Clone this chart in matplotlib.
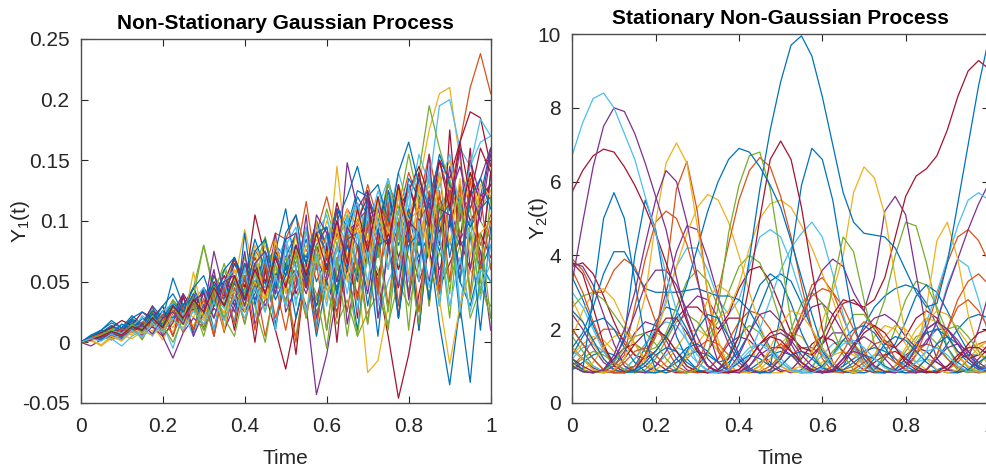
import matplotlib
matplotlib.use('Agg')
import matplotlib.pyplot as plt

plt.rcParams['font.family'] = ['Liberation Sans', 'DejaVu Sans']
plt.rcParams['mathtext.default'] = 'regular'

# sample times shared by every path
time = [0, 0.025, 0.05, 0.075, 0.1, 0.125, 0.15, 0.175, 0.2, 0.225,
        0.25, 0.275, 0.3, 0.325, 0.35, 0.375, 0.4, 0.425, 0.45, 0.475,
        0.5, 0.525, 0.55, 0.575, 0.6, 0.625, 0.65, 0.675, 0.7, 0.725,
        0.75, 0.775, 0.8, 0.825, 0.85, 0.875, 0.9, 0.925, 0.95, 0.975, 1.0]

# Y1(t) sample paths, in units of 0.01
y1_p01 = [0, 0.3, 0.8, 1.2, 0.9, 1.8, 1.5, 2.6, 2.0, 3.5, 2.4, 4.0, 3.0, 5.5, 4.2, 6.8, 5.0, 7.6, 6.2, 9.0, 8.5, 10.5, 7.5, 9.0, 12.0, 8.5, 11.0, 9.5, 13.0, 10.0, 12.5, 10.5, 14.0, 11.5, 15.5, 11.0, 12.0, 16.5, 21.0, 23.8, 20.5]
y1_p02 = [0, 0.2, 0.5, 0.3, 1.0, 0.6, 1.6, 0.9, 2.2, 1.2, 3.0, 2.0, 4.2, 3.0, 5.0, 6.5, 5.0, 8.0, 6.0, 7.5, 5.5, 9.0, 7.0, 10.0, 8.0, 10.5, 9.0, 11.5, 8.5, 12.0, 9.5, 13.0, 10.5, 13.0, 17.5, 20.5, 21.0, 15.0, 11.0, 13.5, 12.0]
y1_p03 = [0, 0.4, 0.9, 0.5, 1.5, 0.8, 2.2, 1.5, 3.0, 2.0, 3.6, 2.5, 4.5, 3.2, 5.5, 4.0, 6.2, 5.0, 7.0, 5.5, 6.5, 8.0, 6.0, 9.0, 7.5, 10.0, 8.0, 11.5, 9.0, 12.5, 10.0, 14.0, 11.0, 15.5, 13.0, 19.5, 20.0, 16.0, 14.5, 16.5, 17.0]
y1_p04 = [0, 0.5, 0.3, 1.2, 0.8, 2.0, 1.4, 2.8, 1.8, 3.5, 2.5, 4.5, 8.0, 4.5, 6.0, 3.5, 7.0, 4.8, 8.5, 5.5, 8.0, 6.5, 9.5, 7.0, 11.0, 8.0, 10.5, 7.5, 12.0, 9.0, 13.5, 10.0, 12.5, 14.0, 19.5, 16.0, 13.0, 12.0, 14.0, 10.0, 8.5]
y1_p05 = [0, 0.2, 0.7, 0.4, 1.2, 0.9, 2.0, 1.2, 2.6, 1.8, 3.0, 4.5, 2.5, 5.0, 3.8, 6.5, 4.5, 7.0, 5.0, 7.5, 6.0, 9.0, 6.5, 10.0, 7.0, 11.5, 8.5, 10.0, 12.0, 9.0, 13.0, 11.0, 12.5, 14.5, 12.0, 15.0, 13.5, 16.5, 19.0, 18.5, 14.5]
y1_p06 = [0, 0.3, 0.6, 1.0, 0.7, 1.5, 1.2, 2.3, 1.6, 3.0, 2.2, 3.8, 2.8, 4.0, 5.5, 3.5, 6.5, 4.5, 7.0, 5.0, 6.0, 7.5, 4.5, 8.0, 5.5, 9.0, 7.0, 10.0, 8.0, 5.0, 0.5, -4.6, -1.0, 4.0, 8.0, 12.0, 9.5, 13.0, 10.0, 11.5, 13.0]
y1_p07 = [0, -0.3, 0.2, 0.6, 0.3, 1.0, 0.7, 1.6, 1.0, 1.8, 1.5, 3.0, 2.0, 3.5, 4.5, 2.5, 5.5, 3.5, 6.0, 4.0, 7.0, 5.5, 3.0, -4.3, -1.0, 4.0, 9.0, 10.0, 11.0, 8.0, 12.5, 9.0, 13.0, 10.5, 12.0, 9.0, 11.0, 8.5, 10.0, 7.5, 1.0]
y1_p08 = [0, 0.2, -0.3, 0.4, 0.2, 0.9, 0.5, 1.4, 0.2, 1.8, 1.2, 2.8, 1.5, 3.5, 2.5, 5.0, 9.3, 5.5, 8.0, 6.0, 7.0, 5.0, 8.0, 6.5, 10.0, 8.5, 11.0, 6.0, -2.5, -1.5, 3.0, 7.0, 10.0, 12.5, 9.0, 13.0, 15.0, 11.0, 13.5, 12.0, 13.0]
y1_p09 = [0, 0.6, 1.0, 1.8, 1.2, 2.2, 1.5, 3.0, 2.0, 5.3, 3.0, 4.5, 2.5, 5.5, 3.5, 7.0, 5.0, 8.5, 6.0, 8.0, 7.0, 9.0, 6.5, 10.0, 8.0, 11.0, 9.5, 12.5, 12.0, 10.0, 12.5, 9.0, 13.5, 12.0, 8.0, 1.5, -3.5, 3.0, -3.3, 6.0, 14.0]
y1_p10 = [0, 0.4, 0.8, 1.4, 1.0, 1.8, 1.3, 2.5, 1.8, 3.0, 2.4, 3.8, 3.0, 4.2, 5.0, 3.5, 6.5, 4.5, 7.5, 5.5, 6.5, 8.0, 7.0, 9.5, 8.0, 11.0, 9.0, 12.0, 10.5, 11.0, 9.0, 14.0, 16.5, 13.0, 10.0, 14.0, 7.0, 11.5, 9.5, 12.0, 16.0]
y1_p11 = [0, 0.3, 0.6, 0.9, 0.6, 1.3, 1.0, 2.0, 1.4, 2.6, 2.0, 3.3, 2.5, 4.0, 3.2, 4.8, 3.8, 5.5, 4.5, 8.0, 5.5, 7.0, 11.6, 6.0, 9.0, 4.0, 7.0, 3.5, 8.5, 5.0, 10.0, 6.0, 11.0, 8.0, 12.5, 9.0, 13.0, 10.5, 12.0, 8.0, 10.5]
y1_p12 = [0, 0.5, 0.3, 1.0, 0.6, 1.7, 1.1, 2.5, 1.5, 3.0, 2.0, 3.5, 2.2, 4.5, 3.0, 5.5, 3.5, 6.5, 4.0, 7.5, 11.0, 6.0, 8.5, 5.0, 7.0, 4.0, 8.0, 5.5, 9.5, 7.0, 11.0, 8.0, 10.5, 7.0, 9.0, 6.0, 8.5, 5.0, 3.0, 6.5, 5.0]
y1_p13 = [0, 0.3, 0.6, 0.4, 1.0, 1.5, 1.0, 2.2, 1.4, 3.0, 2.0, 4.0, 1.0, 3.0, 5.0, 3.0, 4.5, 6.5, 4.0, 1.0, -2.2, 2.0, 5.5, 3.5, 7.0, 5.0, 9.0, 6.5, 11.0, 8.0, 12.0, 9.5, 13.0, 10.0, 11.5, 9.0, 12.5, 10.0, 14.0, 11.5, 13.0]
y1_p14 = [0, 0.2, 0.5, 0.8, 0.5, 1.2, 0.9, 1.8, 1.2, 2.4, 4.0, 2.6, 4.5, 3.0, 5.0, 7.0, 4.5, 10.5, 7.0, 5.0, 8.0, 4.0, 6.0, 3.0, 5.0, 2.5, 6.0, 4.0, 7.5, 5.5, 9.0, 6.0, 8.5, 5.0, 7.5, 4.5, 6.5, 8.5, 6.0, 9.0, 7.0]
y1_p15 = [0, 0.4, 0.7, 1.2, 0.8, 1.6, 1.1, 2.5, 1.8, 3.4, 2.2, 3.8, 8.0, 4.0, 6.5, 3.5, 6.0, 4.2, 7.0, 4.5, 6.5, 3.5, 5.5, 2.5, 4.5, 1.5, 3.5, 0.5, 2.5, 4.0, 1.5, 5.0, 3.0, 6.5, 4.0, 7.5, 5.0, 8.0, 2.0, 4.5, 3.0]
y1_p16 = [0, 0.2, 0.5, 0.2, 0.6, 1.0, 0.6, 1.3, 0.5, -1.3, 0.8, 2.0, 1.2, 2.8, 2.0, 3.5, 2.5, 4.5, 3.0, 5.0, 3.5, 6.0, 4.0, 7.0, 5.0, 8.0, 6.0, 9.5, 7.0, 11.0, 8.0, 12.0, 9.5, 13.0, 10.5, 15.0, 12.0, 14.5, 11.0, 13.5, 16.0]
y1_p17 = [0, 0.3, 0.2, 0.8, 0.5, 1.2, 0.4, 1.5, 0.9, 2.2, 1.5, 3.0, 2.0, 3.8, 2.8, 4.5, 3.5, 5.5, 4.5, 6.5, 8.5, 6.0, 9.0, 7.0, 8.0, 6.0, 9.5, 6.5, 10.0, 2.0, 5.0, 7.0, 4.0, 11.0, 13.5, 10.0, 12.0, 3.0, 6.0, 4.5, 6.5]
y1_p18 = [0, 0.5, 0.8, 1.3, 1.0, 1.9, 1.4, 2.6, 2.0, 3.2, 2.5, 4.0, 3.0, 4.8, 3.5, 5.5, 4.0, 6.5, 4.8, 7.2, 5.5, 8.0, 6.5, 9.0, 7.5, 10.0, 12.0, 14.5, 11.0, 9.0, 12.0, 8.5, 11.0, 8.0, 10.5, 7.5, 10.0, 8.0, 9.0, 6.0, 8.0]
y1_p19 = [0, 0.2, 0.4, 0.7, 0.5, 1.0, 0.7, 1.5, 1.0, 2.0, 1.5, 2.6, 1.8, 3.2, 2.4, 3.8, 3.0, 4.5, 3.5, 5.5, 4.5, 6.0, 5.0, 7.0, 5.5, 14.5, 7.0, 9.5, 6.5, 10.5, 8.0, 12.0, 9.0, 10.5, 13.0, 9.5, 12.0, 10.0, 13.5, 11.0, 12.5]
y1_p20 = [0, 0.3, 0.6, 0.4, 0.9, 1.4, 1.0, 2.0, 1.5, 2.5, 2.0, 3.2, 2.5, 7.5, 4.0, 6.0, 3.0, 5.0, 4.0, 7.0, 5.0, 6.0, 4.5, 8.0, 9.5, 6.0, 14.8, 11.0, 12.5, 8.5, 11.0, 7.0, 9.5, 6.5, 12.0, 8.0, 14.5, 10.0, 15.0, 12.0, 13.0]
y1_p21 = [0, 0.3, 0.7, 1.1, 0.7, 1.5, 1.2, 2.2, 1.6, 2.8, 2.2, 3.3, 2.6, 4.0, 3.0, 5.5, 4.0, 6.0, 8.7, 5.0, 7.0, 4.5, 6.0, 3.5, 5.5, 7.5, 9.0, 6.0, 10.5, 7.0, 13.0, 11.0, 15.5, 11.5, 14.0, 10.0, 13.5, 9.0, 11.0, 5.0, 2.0]
y1_p22 = [0, 0.3, 0.2, 0.8, 0.4, 1.2, 0.3, 1.8, 0.6, 2.6, 0.8, 3.2, 1.2, 4.0, 0.8, 4.5, 1.5, 5.0, 0.5, 4.8, 1.0, 5.5, 2.0, 6.5, 1.0, 7.0, 2.5, 8.0, 1.5, 9.0, 3.0, 10.0, 4.0, 11.5, 3.0, 12.5, 5.0, 13.0, 4.0, 12.0, 6.0]
y1_p23 = [0, 0.4, 0.8, 1.2, 1.8, 1.4, 2.5, 2.0, 3.0, 0.5, 3.8, 1.0, 4.2, 0.5, 5.0, 1.0, 5.5, 0.0, 6.0, 1.5, 5.0, -1.0, 6.5, 1.5, 8.0, 0.0, 9.0, 2.0, 12.5, 4.0, 11.0, 2.0, 10.0, 1.0, 9.0, 4.0, 17.5, 8.0, 16.0, 6.0, 14.0]
y1_p24 = [0, 0.3, 1.0, 0.7, 1.5, 1.1, 2.0, 1.5, 2.6, 2.0, 3.2, 0.8, 4.5, 1.0, 5.0, 1.5, 9.0, 3.0, 7.0, 1.0, 6.5, 2.0, 6.0, 0.5, 5.0, 3.0, 6.5, 1.0, 7.5, 0.5, 8.5, 2.0, 9.0, 1.0, 9.5, 3.0, 10.5, 2.0, 9.0, 1.0, 9.5]
y1_p25 = [0, 0.2, 0.4, 0.3, -0.3, 0.5, 1.0, 0.6, 1.5, -0.5, 2.5, 0.5, 3.5, 1.0, 5.0, 1.5, 6.0, 2.0, 7.5, 1.0, 8.0, 3.0, 9.5, 1.5, 9.0, 3.0, 10.5, 2.5, 11.0, 3.0, 12.0, 4.5, 13.0, 5.0, 14.5, 3.0, 12.0, 2.5, 10.0, 3.5, 8.0]
y1_p26 = [0, 0.1, -0.2, 0.3, 0.6, 0.3, 0.9, 0.6, 1.3, 0.9, 2.0, 1.4, 2.8, 2.0, 3.5, 4.2, 3.0, 5.0, 3.5, 6.0, 5.0, 7.5, 6.0, 8.5, 7.0, 9.5, 8.0, 10.0, 8.5, 11.5, 9.0, 12.5, 10.0, 11.0, 7.0, 3.5, -1.8, 3.0, 6.0, 9.0, 10.0]
y1_p27 = [0, 0.3, 0.5, 0.8, 1.1, 0.8, 1.5, 3.0, 0.5, 1.6, 4.0, 0.5, 2.5, 6.0, 1.0, 3.0, 7.5, 1.5, 3.5, 9.0, 2.5, 4.5, 10.5, 2.0, 5.5, 11.0, 1.5, 6.0, 12.0, 2.0, 7.5, 13.0, 3.5, 9.0, 15.5, 5.0, 10.0, 16.0, 6.0, 11.0, 16.0]
y1_p28 = [0, 0.2, 0.5, 0.8, 0.6, 1.3, 0.2, 1.8, 1.4, 0.0, 2.0, 3.0, 0.5, 3.6, 2.0, 0.5, 4.5, 3.0, 0.0, 5.0, 3.5, 0.5, 6.0, 4.0, -0.5, 6.0, 5.5, 0.5, 7.5, 6.0, 1.0, 9.0, 7.0, 1.5, 10.0, 9.0, 2.0, 11.0, 9.0, 4.0, 12.0]
y1_p29 = [0, 0.3, 0.6, 1.0, 0.7, 1.4, 2.0, 0.5, 2.6, 3.2, 1.5, 3.5, 4.5, 2.0, 5.0, 6.0, 3.0, 6.5, 7.5, 4.0, 8.0, 9.5, 5.0, 9.0, 10.5, 6.0, 10.0, 11.5, 7.0, 11.0, 13.5, 8.5, 12.0, 14.0, 9.5, 13.0, 15.5, 11.0, 14.5, 18.4, 17.0]
y1_p30 = [0, 0.5, 0.2, 0.9, 0.4, 1.6, 0.9, 2.4, 1.3, 3.1, 1.8, 3.6, 2.3, 4.3, 3.0, 5.0, 2.5, 4.0, 6.5, 3.5, 5.5, 8.0, 5.0, 3.0, 6.5, 4.5, 8.0, 5.0, 12.0, 13.0, 10.0, 12.5, 9.0, 13.5, 11.0, 15.5, 13.0, 11.5, 9.5, 11.0, 12.0]
y1_p31 = [0, 0.4, 0.7, 0.5, 1.1, 0.8, 1.7, 1.3, 2.3, 0.5, 2.9, 1.0, 3.6, 0.5, 4.5, 1.5, 5.5, 1.0, 6.5, 2.0, 5.0, 0.0, 6.0, 1.0, 7.5, 2.0, 9.0, 3.5, 10.0, 4.0, 11.5, 3.0, 10.0, 2.5, 11.0, 4.0, 12.5, 5.0, 13.5, 6.0, 10.0]
y1_p32 = [0, 0.2, -0.2, 0.5, 0.1, 0.9, 0.4, 1.6, 0.8, 2.5, 1.5, 5.8, 2.0, 4.5, 1.0, 6.0, 2.5, 7.5, 3.5, 8.5, 4.0, 9.0, 2.0, 10.0, 3.5, 9.5, 5.0, 11.0, 4.5, 12.0, 6.0, 12.5, 5.5, 13.0, 7.0, 14.0, 8.0, 13.5, 7.0, 13.0, 12.0]
y1_p33 = [0, 0.3, 0.6, 1.0, 0.5, 1.5, 0.8, 2.2, 1.0, 3.0, 1.5, 3.5, 1.0, 4.5, 2.0, 5.5, 1.5, 6.0, 2.5, 6.5, 3.0, 7.5, 2.0, 8.0, 1.0, 7.0, 0.5, 6.5, 1.5, 8.0, 2.5, 9.5, 1.0, 10.0, 3.0, 11.5, 4.0, 12.0, 3.5, 9.0, 2.0]
y1_p34 = [0, 0.2, 0.4, 0.7, 0.5, 1.0, 1.4, 0.7, 2.0, 2.5, 1.5, 3.5, 4.0, 2.0, 5.0, 5.5, 3.0, 6.5, 7.5, 4.0, 8.5, 9.0, 4.5, 10.5, 9.0, 5.0, 9.5, 8.0, 4.0, 9.0, 8.0, 4.5, 10.0, 9.0, 5.0, 11.0, 10.5, 6.0, 12.5, 10.0, 15.5]
y1_p35 = [0, 0.5, 1.0, 1.6, 1.2, 2.0, 2.5, 1.8, 3.0, 4.0, 2.5, 4.5, 5.5, 3.0, 6.0, 7.0, 3.5, 7.5, 8.5, 4.5, 9.0, 10.5, 5.0, 9.0, 9.5, 4.0, 8.5, 9.0, 3.0, 8.0, 8.5, 2.0, 8.0, 9.0, 3.5, 10.0, 11.5, 5.0, 12.0, 13.5, 11.0]
y1_p36 = [0, 0.2, 0.5, 0.9, 0.6, 1.3, 1.0, 2.0, 1.2, 3.0, 2.0, 3.5, 2.5, 4.5, 3.0, 5.5, 3.5, 6.0, 4.0, 7.0, 4.5, 8.0, 5.5, 9.0, 6.0, 10.0, 6.5, 11.0, 7.5, 12.0, 8.0, 13.0, 9.0, 14.0, 9.5, 15.0, 11.0, 16.5, 12.0, 16.0, 14.0]
y1_p37 = [0, 0.3, 0.1, 0.7, 0.2, 1.0, 0.4, 1.6, 0.8, 2.0, 1.0, 2.6, 1.5, 3.3, 1.8, 3.8, 2.0, 4.5, 2.5, 5.5, 3.0, 6.0, 2.5, 7.0, 3.0, 8.0, 4.0, 9.0, 5.0, 10.0, 6.0, 11.0, 5.0, 10.0, 4.5, 9.0, 3.0, 7.0, 2.5, 6.0, 5.0]

# Y2(t) sample paths
y2_p01 = [6.72, 7.6, 8.25, 8.4, 8.0, 7.3, 6.6, 5.6, 4.6, 3.5, 2.5, 1.7, 1.1, 0.85, 0.82, 0.9, 1.2, 1.5, 1.6, 1.4, 1.1, 0.9, 0.82, 0.82, 0.95, 1.3, 1.6, 1.7, 1.5, 1.2, 0.95, 0.85, 0.9, 1.1, 1.4, 1.5, 1.3, 1.0, 0.85, 0.85, 0.95]
y2_p02 = [3.3, 4.9, 6.4, 7.5, 8.0, 7.9, 7.3, 6.5, 5.6, 4.7, 3.4, 2.3, 1.5, 1.0, 0.82, 0.9, 1.3, 1.9, 2.4, 2.5, 2.2, 1.6, 1.1, 0.85, 0.82, 0.9, 1.2, 1.4, 1.3, 1.0, 0.85, 0.82, 1.0, 1.5, 2.0, 2.2, 2.0, 1.6, 1.2, 0.95, 0.85]
y2_p03 = [5.73, 6.3, 6.7, 6.88, 6.8, 6.4, 5.9, 5.3, 4.6, 3.8, 3.0, 2.2, 1.5, 1.0, 0.82, 0.82, 0.9, 1.2, 1.6, 1.8, 1.7, 1.4, 1.1, 0.9, 0.82, 0.85, 1.1, 1.5, 1.9, 2.1, 1.9, 1.5, 1.1, 0.9, 0.82, 0.85, 1.0, 1.3, 1.5, 1.5, 1.3]
y2_p04 = [1.2, 0.9, 2.9, 5.0, 5.7, 5.0, 3.3, 1.7, 0.9, 0.82, 0.9, 1.4, 2.0, 2.4, 2.3, 1.8, 1.2, 0.9, 0.82, 0.82, 1.0, 1.3, 1.4, 1.2, 0.95, 0.85, 0.9, 1.1, 1.3, 1.2, 1.0, 0.85, 0.82, 0.9, 1.2, 1.6, 1.8, 1.6, 1.2, 0.95, 0.9]
y2_p05 = [1.0, 0.85, 0.82, 0.9, 1.3, 2.0, 3.0, 4.3, 5.5, 6.3, 6.0, 4.9, 3.4, 2.0, 1.1, 0.85, 0.82, 1.0, 1.4, 1.8, 1.9, 1.7, 1.3, 1.0, 0.85, 0.9, 1.2, 1.6, 1.8, 1.6, 1.2, 0.9, 0.82, 0.82, 0.9, 1.2, 1.5, 1.6, 1.4, 1.1, 0.9]
y2_p06 = [1.5, 1.2, 0.9, 0.82, 0.9, 1.2, 1.8, 2.9, 4.9, 6.5, 7.05, 6.5, 4.8, 3.0, 1.7, 1.0, 0.85, 0.82, 1.0, 1.5, 2.1, 2.5, 2.4, 2.0, 1.5, 1.1, 0.9, 0.82, 0.9, 1.3, 1.8, 2.1, 2.0, 1.6, 1.2, 0.9, 0.82, 0.9, 1.2, 1.5, 1.7]
y2_p07 = [2.0, 1.6, 1.2, 0.9, 0.82, 0.82, 1.0, 1.3, 1.8, 3.5, 5.8, 6.55, 5.2, 2.9, 1.4, 0.9, 0.82, 0.85, 1.0, 1.4, 1.6, 1.4, 1.1, 0.9, 0.85, 1.0, 1.4, 1.9, 2.2, 2.1, 1.7, 1.2, 0.9, 0.82, 0.9, 1.3, 2.0, 2.8, 3.3, 3.5, 3.2]
y2_p08 = [2.0, 1.6, 1.2, 0.9, 0.82, 0.82, 0.9, 1.1, 1.4, 1.8, 2.4, 3.2, 4.2, 5.2, 6.0, 6.6, 6.9, 6.8, 6.4, 5.9, 5.3, 4.4, 3.4, 2.4, 1.5, 1.0, 0.85, 0.82, 0.9, 1.2, 1.6, 1.8, 1.7, 1.4, 1.1, 0.9, 0.82, 0.82, 0.9, 1.1, 1.3]
y2_p09 = [1.0, 0.9, 0.82, 0.85, 1.1, 1.5, 1.8, 1.9, 1.6, 1.2, 0.9, 0.82, 0.9, 1.3, 2.6, 4.6, 5.9, 6.7, 6.8, 5.8, 4.0, 2.2, 1.1, 0.9, 1.6, 3.2, 4.5, 4.1, 2.8, 1.6, 1.0, 0.85, 0.82, 0.9, 1.2, 1.6, 2.0, 2.1, 1.8, 1.4, 1.1]
y2_p10 = [1.5, 1.2, 0.9, 0.82, 0.85, 1.1, 1.4, 1.5, 1.3, 1.0, 0.85, 0.82, 1.0, 1.8, 3.0, 4.3, 5.5, 6.3, 6.65, 6.4, 5.6, 4.5, 3.2, 2.0, 1.2, 0.85, 0.82, 0.9, 1.1, 1.3, 1.3, 1.1, 0.9, 0.82, 0.9, 1.3, 2.0, 2.6, 2.8, 2.5, 2.0]
y2_p11 = [1.2, 1.0, 0.85, 0.82, 0.9, 1.2, 1.6, 1.9, 2.0, 1.8, 1.4, 1.0, 0.85, 0.82, 0.9, 1.2, 1.8, 3.2, 5.0, 6.6, 7.1, 6.6, 5.3, 3.6, 2.0, 1.1, 0.85, 0.82, 0.9, 1.1, 1.3, 1.4, 1.2, 1.0, 0.85, 0.82, 0.9, 1.2, 1.6, 1.9, 2.0]
y2_p12 = [1.3, 1.8, 2.2, 2.3, 2.0, 1.5, 1.1, 0.85, 0.82, 0.9, 1.2, 1.5, 1.6, 1.4, 1.1, 1.2, 2.2, 3.9, 5.8, 7.4, 8.7, 9.7, 9.95, 9.4, 8.3, 7.0, 5.7, 4.9, 4.6, 4.55, 4.5, 4.2, 3.6, 3.0, 2.6, 2.7, 3.8, 5.4, 7.0, 8.6, 9.9]
y2_p13 = [2.5, 2.2, 1.7, 1.2, 0.9, 0.82, 0.85, 1.0, 1.3, 1.5, 1.4, 1.1, 0.9, 0.82, 0.82, 0.9, 1.1, 1.3, 1.2, 1.0, 2.4, 4.0, 5.9, 6.9, 6.6, 5.5, 3.8, 2.2, 1.2, 0.85, 0.82, 0.9, 1.2, 1.6, 1.9, 2.0, 1.8, 1.4, 1.1, 0.9, 0.85]
y2_p14 = [1.0, 0.9, 1.1, 1.5, 1.8, 1.9, 1.6, 1.2, 0.9, 0.82, 0.9, 1.3, 2.0, 2.8, 3.2, 3.0, 2.4, 1.6, 1.0, 0.82, 0.82, 0.9, 1.0, 1.4, 2.2, 3.0, 4.0, 5.7, 6.4, 6.1, 5.1, 3.4, 1.8, 1.3, 2.6, 4.4, 4.9, 3.9, 2.4, 1.4, 1.0]
y2_p15 = [3.8, 3.5, 2.6, 1.6, 1.0, 0.85, 0.9, 1.3, 1.9, 2.3, 2.3, 1.9, 1.4, 1.0, 0.85, 0.82, 0.9, 1.2, 1.6, 1.9, 2.0, 1.8, 1.5, 1.4, 1.8, 2.4, 2.8, 2.7, 2.6, 2.8, 3.4, 4.5, 5.6, 6.15, 6.35, 6.7, 7.4, 8.3, 9.0, 9.28, 9.05]
y2_p16 = [3.8, 3.7, 3.2, 2.4, 1.6, 1.0, 0.85, 0.82, 1.0, 1.4, 2.0, 2.6, 2.9, 2.8, 2.3, 1.6, 1.1, 0.85, 0.82, 0.9, 1.2, 1.6, 2.2, 3.0, 3.6, 3.9, 3.7, 3.0, 2.5, 3.4, 5.2, 5.6, 5.1, 3.5, 2.0, 1.2, 0.9, 0.85, 1.2, 2.0, 3.0]
y2_p17 = [1.4, 1.2, 1.0, 0.85, 0.82, 0.9, 1.2, 1.6, 2.0, 2.2, 2.1, 1.7, 1.3, 1.0, 0.85, 0.82, 0.9, 1.3, 2.0, 2.8, 3.6, 4.2, 4.6, 4.9, 4.5, 3.5, 2.4, 1.5, 1.0, 0.85, 0.82, 0.9, 1.1, 1.5, 2.2, 3.0, 3.9, 4.8, 5.5, 5.7, 5.5]
y2_p18 = [1.0, 0.85, 0.82, 0.9, 1.2, 1.7, 2.4, 3.2, 3.6, 3.6, 3.2, 2.5, 1.8, 1.2, 0.9, 0.82, 0.85, 1.0, 1.3, 1.5, 1.5, 1.3, 1.0, 0.85, 0.82, 0.9, 1.2, 1.6, 2.0, 2.3, 2.4, 2.2, 1.8, 1.5, 1.6, 2.2, 3.1, 3.9, 4.7, 5.4, 5.96]
y2_p19 = [3.6, 3.0, 2.2, 1.5, 1.0, 1.3, 2.6, 3.9, 4.9, 5.2, 5.0, 4.3, 3.3, 2.3, 1.5, 1.0, 0.85, 0.82, 0.85, 1.0, 1.3, 1.8, 2.4, 2.9, 3.1, 3.0, 2.6, 2.0, 1.4, 1.0, 0.85, 0.82, 0.9, 1.3, 2.0, 2.9, 3.8, 4.5, 4.7, 4.4, 3.8]
y2_p20 = [2.8, 2.2, 1.6, 1.2, 0.9, 0.82, 0.9, 1.2, 1.8, 2.7, 3.7, 4.6, 5.3, 5.65, 5.5, 4.9, 4.0, 3.0, 2.1, 1.4, 1.0, 0.85, 0.82, 0.9, 1.1, 1.3, 1.4, 1.3, 1.1, 0.9, 0.85, 1.0, 1.5, 2.0, 2.3, 2.2, 1.8, 1.3, 1.0, 0.85, 0.82]
y2_p21 = [1.8, 2.5, 3.0, 3.1, 2.8, 2.2, 1.6, 1.1, 0.85, 0.82, 0.9, 1.2, 1.6, 2.0, 2.3, 2.5, 3.2, 4.2, 5.0, 5.4, 5.5, 5.3, 4.8, 4.2, 3.5, 2.8, 2.0, 1.4, 1.0, 0.85, 0.82, 0.9, 1.2, 1.7, 2.2, 2.5, 2.4, 2.0, 1.6, 1.3, 1.2]
y2_p22 = [1.0, 0.85, 0.82, 0.9, 1.1, 1.8, 4.0, 5.5, 4.7, 3.0, 1.8, 1.2, 0.9, 0.82, 0.9, 1.1, 1.4, 1.9, 2.6, 3.3, 3.5, 3.3, 2.7, 2.0, 1.4, 1.0, 0.85, 0.82, 0.82, 0.9, 1.2, 1.6, 2.2, 2.9, 3.2, 3.0, 2.5, 1.9, 1.4, 1.0, 0.85]
y2_p23 = [1.5, 1.9, 2.6, 3.5, 4.1, 4.1, 3.6, 3.1, 3.0, 3.0, 3.0, 3.05, 3.1, 3.0, 2.9, 2.9, 2.8, 2.5, 2.0, 1.5, 1.1, 0.9, 0.82, 0.85, 1.0, 1.3, 1.7, 2.0, 2.1, 1.9, 1.5, 1.1, 0.9, 0.82, 0.9, 1.2, 1.6, 2.0, 2.3, 2.4, 2.3]
y2_p24 = [3.9, 3.6, 3.0, 3.0, 3.6, 3.9, 3.7, 3.0, 2.2, 1.5, 1.0, 0.85, 0.82, 0.9, 1.2, 1.7, 2.2, 2.5, 2.4, 2.0, 1.5, 1.6, 2.4, 3.2, 3.4, 3.0, 2.3, 1.6, 1.1, 0.85, 0.82, 0.9, 1.1, 1.4, 1.6, 1.5, 1.2, 0.95, 0.85, 0.82, 0.9]
y2_p25 = [2.6, 2.9, 3.0, 2.8, 2.4, 2.0, 1.6, 1.4, 1.5, 1.9, 2.6, 3.3, 3.6, 3.3, 2.6, 1.8, 1.2, 0.9, 0.82, 0.9, 1.3, 2.0, 2.7, 3.0, 2.7, 2.0, 1.3, 0.9, 0.82, 0.9, 1.3, 2.0, 2.8, 3.3, 3.2, 2.6, 1.9, 1.3, 0.95, 0.85, 0.9]
y2_p26 = [1.0, 1.2, 1.4, 1.3, 1.1, 0.9, 0.82, 0.9, 1.2, 1.7, 2.2, 2.4, 2.2, 1.8, 2.2, 3.0, 3.7, 4.0, 3.8, 3.1, 2.2, 1.4, 0.95, 0.82, 0.9, 1.3, 1.9, 2.4, 2.4, 2.0, 2.8, 4.0, 4.9, 4.8, 3.8, 2.5, 1.5, 1.0, 0.85, 1.0, 1.4]
y2_p27 = [3.7, 3.8, 3.5, 2.9, 2.2, 1.6, 1.3, 1.2, 1.4, 1.8, 2.3, 2.6, 2.6, 2.3, 2.0, 2.4, 3.1, 3.6, 3.7, 3.3, 2.6, 1.9, 1.4, 1.3, 1.6, 2.2, 2.7, 2.8, 2.5, 2.0, 1.6, 1.5, 1.8, 2.3, 2.5, 2.3, 1.8, 1.4, 1.2, 1.3, 1.6]
y2_p28 = [2.4, 2.0, 1.5, 1.1, 0.9, 0.82, 0.9, 1.3, 2.0, 3.0, 4.1, 4.8, 4.7, 3.9, 2.9, 2.0, 1.3, 0.95, 0.82, 0.9, 1.2, 1.7, 2.2, 2.6, 2.7, 2.4, 1.9, 1.4, 1.0, 0.85, 0.82, 0.9, 1.2, 1.6, 2.0, 2.2, 2.0, 1.6, 1.2, 0.95, 0.85]
y2_p29 = [3.0, 2.6, 2.0, 1.4, 1.0, 0.85, 0.82, 1.1, 1.8, 2.8, 3.7, 4.2, 4.2, 3.6, 2.8, 2.4, 2.8, 3.7, 4.5, 4.7, 4.5, 3.8, 2.9, 2.0, 1.3, 0.95, 0.82, 0.85, 1.0, 1.3, 1.5, 1.5, 1.3, 1.1, 1.4, 2.2, 3.2, 3.9, 3.7, 2.8, 1.8]
y2_p30 = [3.4, 2.8, 2.1, 1.5, 1.1, 0.9, 1.0, 1.5, 2.2, 2.6, 2.5, 2.0, 1.4, 1.0, 0.85, 1.0, 1.6, 2.5, 3.2, 3.5, 3.3, 2.7, 1.9, 1.3, 0.95, 0.85, 1.0, 1.5, 2.1, 2.6, 2.9, 3.1, 3.2, 3.1, 2.7, 2.1, 1.5, 1.1, 0.9, 0.82, 0.85]
y2_p31 = [1.3, 1.6, 1.8, 1.7, 1.4, 1.1, 0.9, 0.82, 0.9, 1.1, 1.5, 1.9, 2.0, 1.8, 1.4, 1.0, 0.85, 0.82, 0.9, 1.2, 1.6, 1.9, 1.8, 1.4, 1.0, 0.85, 0.82, 0.9, 1.3, 1.8, 2.1, 2.0, 1.6, 1.1, 0.9, 0.82, 0.9, 1.2, 1.5, 1.6, 1.4]
y2_p32 = [1.8, 1.4, 1.0, 0.85, 0.82, 0.9, 1.2, 1.6, 1.9, 1.8, 1.4, 1.0, 0.85, 0.82, 0.9, 1.3, 1.8, 2.1, 1.9, 1.4, 1.0, 0.85, 0.82, 0.82, 1.0, 1.4, 1.7, 1.6, 1.3, 1.0, 0.85, 1.0, 1.4, 1.8, 1.9, 1.6, 1.2, 0.9, 0.82, 0.9, 1.1]
y2_p33 = [1.1, 0.9, 0.82, 0.9, 1.2, 1.5, 1.6, 1.4, 1.1, 0.9, 0.82, 0.82, 1.0, 1.4, 1.9, 2.3, 2.3, 1.9, 1.4, 1.0, 0.85, 0.9, 1.2, 1.6, 1.8, 1.7, 1.4, 1.1, 0.9, 0.82, 0.82, 1.0, 1.3, 1.5, 1.4, 1.1, 0.9, 0.82, 0.9, 1.2, 1.5]
y2_p34 = [1.2, 1.5, 1.6, 1.4, 1.1, 0.9, 0.82, 0.85, 1.0, 1.3, 1.5, 1.4, 1.1, 0.9, 0.82, 0.85, 1.1, 1.4, 1.6, 1.5, 1.2, 0.95, 0.85, 1.0, 1.3, 1.6, 1.7, 1.5, 1.2, 0.95, 0.85, 0.82, 0.9, 1.1, 1.2, 1.1, 0.95, 0.85, 0.9, 1.1, 1.3]
y2_p35 = [0.9, 1.1, 1.3, 1.4, 1.3, 1.1, 0.9, 0.82, 0.82, 0.9, 1.1, 1.3, 1.4, 1.3, 1.1, 0.9, 0.82, 0.9, 1.1, 1.3, 1.4, 1.3, 1.1, 0.9, 0.82, 0.85, 1.0, 1.2, 1.4, 1.5, 1.4, 1.2, 1.0, 0.85, 0.82, 0.9, 1.0, 1.2, 1.3, 1.3, 1.2]
y2_p36 = [1.5, 1.2, 0.95, 0.85, 1.0, 1.4, 1.9, 2.2, 2.1, 1.7, 1.2, 0.9, 0.82, 0.9, 1.2, 1.6, 1.8, 1.7, 1.4, 1.1, 0.9, 0.82, 0.9, 1.2, 1.6, 1.9, 1.9, 1.6, 1.2, 0.95, 0.85, 0.85, 1.0, 1.3, 1.7, 2.0, 2.0, 1.7, 1.3, 1.0, 0.9]
y2_p37 = [1.0, 1.3, 1.7, 2.0, 2.0, 1.7, 1.3, 1.0, 0.85, 0.82, 0.9, 1.2, 1.5, 1.7, 1.6, 1.3, 1.0, 0.85, 0.82, 0.85, 1.0, 1.3, 1.5, 1.5, 1.3, 1.0, 0.9, 1.0, 1.3, 1.6, 1.7, 1.5, 1.2, 0.95, 0.85, 0.82, 0.9, 1.1, 1.4, 1.6, 1.7]

x_ticks = [0, 0.2, 0.4, 0.6, 0.8, 1]
x_ticklabels = ['0', '0.2', '0.4', '0.6', '0.8', '1']
y1_ticks = [-0.05, 0, 0.05, 0.1, 0.15, 0.2, 0.25]
y1_ticklabels = ['-0.05', '0', '0.05', '0.1', '0.15', '0.2', '0.25']
y2_ticks = [0, 2, 4, 6, 8, 10]
y2_ticklabels = ['0', '2', '4', '6', '8', '10']

y1_paths = [y1_p01, y1_p02, y1_p03, y1_p04, y1_p05, y1_p06, y1_p07, y1_p08, y1_p09, y1_p10,
            y1_p11, y1_p12, y1_p13, y1_p14, y1_p15, y1_p16, y1_p17, y1_p18, y1_p19, y1_p20,
            y1_p21, y1_p22, y1_p23, y1_p24, y1_p25, y1_p26, y1_p27, y1_p28, y1_p29, y1_p30,
            y1_p31, y1_p32, y1_p33, y1_p34, y1_p35, y1_p36, y1_p37]
y2_paths = [y2_p01, y2_p02, y2_p03, y2_p04, y2_p05, y2_p06, y2_p07, y2_p08, y2_p09, y2_p10,
            y2_p11, y2_p12, y2_p13, y2_p14, y2_p15, y2_p16, y2_p17, y2_p18, y2_p19, y2_p20,
            y2_p21, y2_p22, y2_p23, y2_p24, y2_p25, y2_p26, y2_p27, y2_p28, y2_p29, y2_p30,
            y2_p31, y2_p32, y2_p33, y2_p34, y2_p35, y2_p36, y2_p37]

# matlab default line colours, one letter per path
palette = {'B': '#0072BD', 'O': '#D95319', 'Y': '#EDB120', 'P': '#7E2F8E',
           'G': '#77AC30', 'C': '#4DBEEE', 'R': '#A2142F'}
y1_colours = 'OYCGRRPYBBOBRRGPCBYPGORBCYPGCBOYGPBRC'
y2_colours = 'CPRBPYOBGORBBYRPCPOYYBBOGGRPCBYGRCBPO'

W, H = 987, 467
fig = plt.figure(figsize=(W / 100, H / 100), dpi=100)
ax1 = fig.add_axes([80.7 / W, 64 / H, 410 / W, 364 / H])
ax2 = fig.add_axes([572.3 / W, 64 / H, 416.7 / W, 369 / H])

for y, c in zip(y1_paths, y1_colours):
    ax1.plot(time, [v / 100 for v in y], color=palette[c], lw=0.9)
for y, c in reversed(list(zip(y2_paths, y2_colours))):
    ax2.plot(time, y, color=palette[c], lw=0.9)

ax1.set_ylim(-0.05, 0.25)
ax1.set_yticks(y1_ticks)
ax1.set_yticklabels(y1_ticklabels)
ax2.set_ylim(0, 10)
ax2.set_yticks(y2_ticks)
ax2.set_yticklabels(y2_ticklabels)

titles = ['Non-Stationary Gaussian Process', 'Stationary Non-Gaussian Process']
ylabels = ['Y$_1$(t)', 'Y$_2$(t)']
ylabel_x = [-0.119, -0.054]
for ax, title, ylabel, yx in zip([ax1, ax2], titles, ylabels, ylabel_x):
    ax.set_xlim(0, 1)
    ax.set_xticks(x_ticks)
    ax.set_xticklabels(x_ticklabels)
    ax.tick_params(direction='in', length=5, width=0.8, top=True, right=True,
                   labelsize=15, colors='#262626', pad=8)
    ax.tick_params(axis='x', pad=10)
    for s in ax.spines.values():
        s.set_color('#4d4d4d')
        s.set_linewidth(1.0)
    ax.set_title(title, fontsize=15, fontweight='bold', pad=7, color='black')
    ax.set_xlabel('Time', fontsize=15, color='#262626')
    ax.set_ylabel(ylabel, fontsize=15, color='#262626')
    ax.yaxis.set_label_coords(yx, 0.5)
    ax.xaxis.set_label_coords(0.5, -0.125)

fig.savefig('out.png', dpi=100)
